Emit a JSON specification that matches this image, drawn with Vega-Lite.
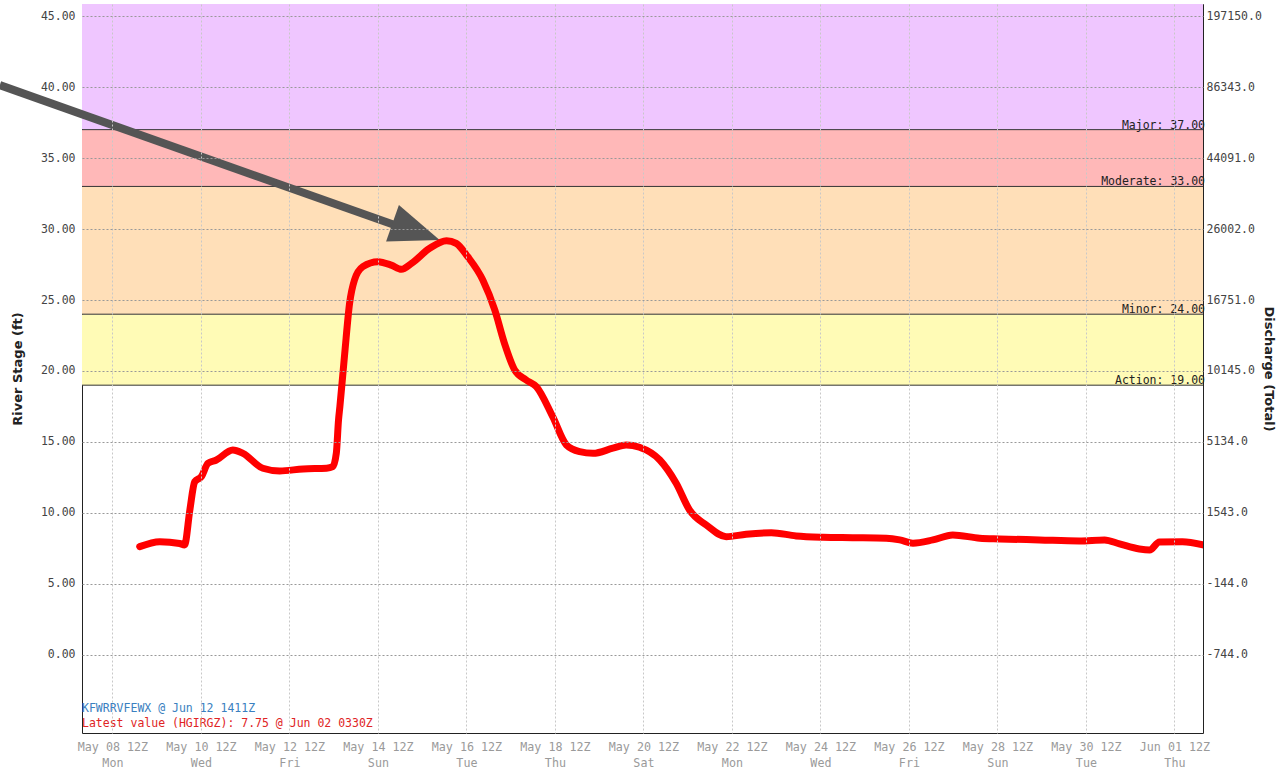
{
  "$schema": "https://vega.github.io/schema/vega-lite/v6.json",
  "width": 1121,
  "height": 729,
  "autosize": {"type": "none"},
  "padding": {"left": 82, "top": 4, "right": 74, "bottom": 38},
  "background": "white",
  "config": {
    "view": {"stroke": "#222", "strokeWidth": 1},
    "font": "DejaVu Sans Mono"
  },
  "datasets": {
    "stage": [
      {"time": "2023-05-09T02:48:00Z", "stage": 7.63},
      {"time": "2023-05-09T13:41:00Z", "stage": 7.98},
      {"time": "2023-05-10T00:29:00Z", "stage": 7.85},
      {"time": "2023-05-10T03:07:00Z", "stage": 7.75},
      {"time": "2023-05-10T06:00:00Z", "stage": 10.21},
      {"time": "2023-05-10T08:38:00Z", "stage": 12.2},
      {"time": "2023-05-10T12:14:00Z", "stage": 12.56},
      {"time": "2023-05-10T15:50:00Z", "stage": 13.5},
      {"time": "2023-05-10T20:24:00Z", "stage": 13.73},
      {"time": "2023-05-11T05:17:00Z", "stage": 14.44},
      {"time": "2023-05-11T10:48:00Z", "stage": 14.2},
      {"time": "2023-05-11T21:36:00Z", "stage": 13.15},
      {"time": "2023-05-12T06:43:00Z", "stage": 12.96},
      {"time": "2023-05-12T19:26:00Z", "stage": 13.1},
      {"time": "2023-05-13T08:10:00Z", "stage": 13.15},
      {"time": "2023-05-13T11:31:00Z", "stage": 13.26},
      {"time": "2023-05-13T13:26:00Z", "stage": 14.2},
      {"time": "2023-05-13T14:38:00Z", "stage": 16.55},
      {"time": "2023-05-13T15:22:00Z", "stage": 17.49},
      {"time": "2023-05-13T18:00:00Z", "stage": 21.25},
      {"time": "2023-05-13T20:38:00Z", "stage": 24.77},
      {"time": "2023-05-13T23:17:00Z", "stage": 26.41},
      {"time": "2023-05-14T03:50:00Z", "stage": 27.35},
      {"time": "2023-05-14T12:00:00Z", "stage": 27.7},
      {"time": "2023-05-14T19:12:00Z", "stage": 27.46},
      {"time": "2023-05-15T00:43:00Z", "stage": 27.16},
      {"time": "2023-05-15T06:14:00Z", "stage": 27.58},
      {"time": "2023-05-15T16:05:00Z", "stage": 28.64},
      {"time": "2023-05-16T01:12:00Z", "stage": 29.18},
      {"time": "2023-05-16T06:29:00Z", "stage": 28.99},
      {"time": "2023-05-16T12:43:00Z", "stage": 28.05},
      {"time": "2023-05-16T20:53:00Z", "stage": 26.41},
      {"time": "2023-05-17T03:22:00Z", "stage": 24.3},
      {"time": "2023-05-17T08:38:00Z", "stage": 21.95},
      {"time": "2023-05-17T14:10:00Z", "stage": 20.07},
      {"time": "2023-05-17T20:24:00Z", "stage": 19.37},
      {"time": "2023-05-18T01:55:00Z", "stage": 18.9},
      {"time": "2023-05-18T10:48:00Z", "stage": 16.78},
      {"time": "2023-05-18T18:14:00Z", "stage": 14.79},
      {"time": "2023-05-19T01:26:00Z", "stage": 14.32},
      {"time": "2023-05-19T08:38:00Z", "stage": 14.2},
      {"time": "2023-05-19T19:26:00Z", "stage": 14.56},
      {"time": "2023-05-20T02:38:00Z", "stage": 14.79},
      {"time": "2023-05-20T09:50:00Z", "stage": 14.63},
      {"time": "2023-05-20T20:53:00Z", "stage": 13.73},
      {"time": "2023-05-21T05:46:00Z", "stage": 12.09},
      {"time": "2023-05-21T13:00:00Z", "stage": 10.21},
      {"time": "2023-05-21T22:05:00Z", "stage": 9.15},
      {"time": "2023-05-22T08:53:00Z", "stage": 8.33},
      {"time": "2023-05-22T19:41:00Z", "stage": 8.5},
      {"time": "2023-05-23T09:22:00Z", "stage": 8.61},
      {"time": "2023-05-23T22:48:00Z", "stage": 8.38},
      {"time": "2023-05-24T13:26:00Z", "stage": 8.29},
      {"time": "2023-05-25T05:31:00Z", "stage": 8.26},
      {"time": "2023-05-25T23:46:00Z", "stage": 8.22},
      {"time": "2023-05-26T07:00:00Z", "stage": 8.1},
      {"time": "2023-05-26T14:12:00Z", "stage": 7.87},
      {"time": "2023-05-27T01:00:00Z", "stage": 8.1},
      {"time": "2023-05-27T11:46:00Z", "stage": 8.45},
      {"time": "2023-05-28T02:24:00Z", "stage": 8.22},
      {"time": "2023-05-28T13:12:00Z", "stage": 8.17},
      {"time": "2023-05-29T10:48:00Z", "stage": 8.1},
      {"time": "2023-05-30T08:24:00Z", "stage": 8.03},
      {"time": "2023-05-30T22:05:00Z", "stage": 8.1},
      {"time": "2023-05-31T06:14:00Z", "stage": 7.82},
      {"time": "2023-05-31T17:00:00Z", "stage": 7.46},
      {"time": "2023-05-31T22:34:00Z", "stage": 7.39},
      {"time": "2023-06-01T03:50:00Z", "stage": 7.96},
      {"time": "2023-06-01T16:19:00Z", "stage": 7.98},
      {"time": "2023-06-02T03:30:00Z", "stage": 7.75}
    ],
    "bands": [
      {"category": "Action", "lo": 19, "hi": 24},
      {"category": "Minor", "lo": 24, "hi": 33},
      {"category": "Moderate", "lo": 33, "hi": 37},
      {"category": "Major", "lo": 37, "hi": 46}
    ],
    "thresholds": [
      {"label": "Action: 19.00", "stage": 19},
      {"label": "Minor: 24.00", "stage": 24},
      {"label": "Moderate: 33.00", "stage": 33},
      {"label": "Major: 37.00", "stage": 37}
    ],
    "arrow": [
      {"time": "2023-05-05T22:54:00Z", "stage": 40.14},
      {"time": "2023-05-14T21:04:00Z", "stage": 30.28}
    ],
    "arrowhead": [
      {"time": "2023-05-15T21:29:00Z", "stage": 29.23}
    ],
    "source": [{"note": "KFWRRVFEWX @ Jun 12 1411Z"}],
    "latest": [{"note": "Latest value (HGIRGZ): 7.75 @ Jun 02 0330Z"}]
  },
  "resolve": {"scale": {"y": "independent"}, "axis": {"y": "independent"}},
  "layer": [
    {
      "layer": [
        {
          "data": {"name": "bands"},
          "mark": {"type": "rect", "clip": true},
          "encoding": {
            "y": {
              "field": "lo", "type": "quantitative",
              "scale": {"domain": [-5.5, 45.85], "nice": false, "zero": false},
              "axis": {
                "values": [0, 5, 10, 15, 20, 25, 30, 35, 40, 45],
                "format": ".2f",
                "grid": true, "gridColor": "#999", "gridDash": [2, 2], "gridWidth": 1,
                "zindex": 1,
                "domain": false, "ticks": false,
                "labelFont": "DejaVu Sans Mono", "labelFontSize": 11.5, "labelColor": "#444",
                "labelPadding": 7,
                "title": "River Stage (ft)",
                "titleFont": "DejaVu Sans", "titleFontWeight": "bold", "titleFontSize": 13,
                "titleColor": "#222", "titlePadding": 16
              }
            },
            "y2": {"field": "hi"},
            "color": {
              "field": "category", "type": "nominal", "legend": null,
              "scale": {
                "domain": ["Action", "Minor", "Moderate", "Major"],
                "range": ["#FFFBB6", "#FFDFB8", "#FFB8B8", "#EFC6FF"]
              }
            }
          }
        },
        {
          "data": {"name": "thresholds"},
          "mark": {"type": "rule", "color": "#333", "strokeWidth": 1},
          "encoding": {
            "y": {"field": "stage", "type": "quantitative",
                  "scale": {"domain": [-5.5, 45.85], "nice": false, "zero": false}}
          }
        },
        {
          "data": {"name": "thresholds"},
          "mark": {"type": "text", "align": "right", "baseline": "alphabetic", "dx": 2, "dy": -1,
                   "font": "DejaVu Sans Mono", "fontSize": 11.5, "color": "#222"},
          "encoding": {
            "x": {"datum": {"year": 2023, "month": 6, "date": 2, "hours": 3, "minutes": 30, "utc": true},
                  "type": "temporal",
                  "scale": {"type": "utc", "nice": false,
                            "domain": [{"year": 2023, "month": 5, "date": 7, "hours": 19, "minutes": 30, "utc": true},
                                       {"year": 2023, "month": 6, "date": 2, "hours": 3, "minutes": 30, "utc": true}]}},
            "y": {"field": "stage", "type": "quantitative",
                  "scale": {"domain": [-5.5, 45.85], "nice": false, "zero": false}},
            "text": {"field": "label"}
          }
        },
        {
          "data": {"name": "arrow"},
          "mark": {"type": "line", "color": "#555555", "strokeWidth": 8, "strokeCap": "butt", "clip": false},
          "encoding": {
            "x": {"field": "time", "type": "temporal",
                  "scale": {"type": "utc", "nice": false,
                            "domain": [{"year": 2023, "month": 5, "date": 7, "hours": 19, "minutes": 30, "utc": true},
                                       {"year": 2023, "month": 6, "date": 2, "hours": 3, "minutes": 30, "utc": true}]}},
            "y": {"field": "stage", "type": "quantitative",
                  "scale": {"domain": [-5.5, 45.85], "nice": false, "zero": false}}
          }
        },
        {
          "data": {"name": "arrowhead"},
          "mark": {"type": "point", "filled": true, "color": "#555555", "opacity": 1,
                   "shape": "M0,0 L-2.2,-0.85 L-2.2,0.85 Z", "size": 2066, "angle": 19.4, "clip": false},
          "encoding": {
            "x": {"field": "time", "type": "temporal",
                  "scale": {"type": "utc", "nice": false,
                            "domain": [{"year": 2023, "month": 5, "date": 7, "hours": 19, "minutes": 30, "utc": true},
                                       {"year": 2023, "month": 6, "date": 2, "hours": 3, "minutes": 30, "utc": true}]}},
            "y": {"field": "stage", "type": "quantitative",
                  "scale": {"domain": [-5.5, 45.85], "nice": false, "zero": false}}
          }
        },
        {
          "data": {"name": "source"},
          "mark": {"type": "text", "align": "left", "baseline": "middle",
                   "font": "DejaVu Sans Mono", "fontSize": 11.5, "color": "#3a80c0"},
          "encoding": {
            "x": {"datum": {"year": 2023, "month": 5, "date": 7, "hours": 19, "minutes": 30, "utc": true},
                  "type": "temporal",
                  "scale": {"type": "utc", "nice": false,
                            "domain": [{"year": 2023, "month": 5, "date": 7, "hours": 19, "minutes": 30, "utc": true},
                                       {"year": 2023, "month": 6, "date": 2, "hours": 3, "minutes": 30, "utc": true}]}},
            "y": {"datum": -3.8, "type": "quantitative",
                  "scale": {"domain": [-5.5, 45.85], "nice": false, "zero": false}},
            "text": {"field": "note"}
          }
        },
        {
          "data": {"name": "latest"},
          "mark": {"type": "text", "align": "left", "baseline": "middle",
                   "font": "DejaVu Sans Mono", "fontSize": 11.5, "color": "#e02424"},
          "encoding": {
            "x": {"datum": {"year": 2023, "month": 5, "date": 7, "hours": 19, "minutes": 30, "utc": true},
                  "type": "temporal",
                  "scale": {"type": "utc", "nice": false,
                            "domain": [{"year": 2023, "month": 5, "date": 7, "hours": 19, "minutes": 30, "utc": true},
                                       {"year": 2023, "month": 6, "date": 2, "hours": 3, "minutes": 30, "utc": true}]}},
            "y": {"datum": -4.86, "type": "quantitative",
                  "scale": {"domain": [-5.5, 45.85], "nice": false, "zero": false}},
            "text": {"field": "note"}
          }
        }
      ]
    },
    {
      "data": {"name": "stage"},
      "mark": {"type": "line", "color": "#ff0000", "strokeWidth": 7, "interpolate": "monotone", "strokeCap": "round", "strokeJoin": "round", "clip": true},
      "encoding": {
        "x": {
          "field": "time", "type": "temporal",
          "scale": {"type": "utc", "nice": false,
                    "domain": [{"year": 2023, "month": 5, "date": 7, "hours": 19, "minutes": 30, "utc": true},
                               {"year": 2023, "month": 6, "date": 2, "hours": 3, "minutes": 30, "utc": true}]},
          "axis": {
            "values": [
              {"year": 2023, "month": 5, "date": 8, "hours": 12, "utc": true},
              {"year": 2023, "month": 5, "date": 10, "hours": 12, "utc": true},
              {"year": 2023, "month": 5, "date": 12, "hours": 12, "utc": true},
              {"year": 2023, "month": 5, "date": 14, "hours": 12, "utc": true},
              {"year": 2023, "month": 5, "date": 16, "hours": 12, "utc": true},
              {"year": 2023, "month": 5, "date": 18, "hours": 12, "utc": true},
              {"year": 2023, "month": 5, "date": 20, "hours": 12, "utc": true},
              {"year": 2023, "month": 5, "date": 22, "hours": 12, "utc": true},
              {"year": 2023, "month": 5, "date": 24, "hours": 12, "utc": true},
              {"year": 2023, "month": 5, "date": 26, "hours": 12, "utc": true},
              {"year": 2023, "month": 5, "date": 28, "hours": 12, "utc": true},
              {"year": 2023, "month": 5, "date": 30, "hours": 12, "utc": true},
              {"year": 2023, "month": 6, "date": 1, "hours": 12, "utc": true}
            ],
            "labelExpr": "[utcFormat(datum.value, '%b %d 12Z'), utcFormat(datum.value, '%a')]",
            "grid": true, "gridColor": "#c8c8c8", "gridDash": [2, 2], "gridWidth": 1,
            "zindex": 1,
            "domain": false, "ticks": false,
            "labelFont": "DejaVu Sans Mono", "labelFontSize": 11.7, "labelColor": "#9a9a9a",
            "labelPadding": 8, "labelLineHeight": 16, "labelAngle": 0,
            "title": null
          }
        },
        "y": {
          "field": "stage", "type": "quantitative",
          "scale": {"domain": [-5.5, 45.85], "nice": false, "zero": false},
          "axis": {
            "orient": "right",
            "values": [0, 5, 10, 15, 20, 25, 30, 35, 40, 45],
            "labelExpr": "datum.value == 45 ? '197150.0' : datum.value == 40 ? '86343.0' : datum.value == 35 ? '44091.0' : datum.value == 30 ? '26002.0' : datum.value == 25 ? '16751.0' : datum.value == 20 ? '10145.0' : datum.value == 15 ? '5134.0' : datum.value == 10 ? '1543.0' : datum.value == 5 ? '-144.0' : '-744.0'",
            "grid": false, "domain": false, "ticks": false,
            "labelFont": "DejaVu Sans Mono", "labelFontSize": 11.5, "labelColor": "#444",
            "labelPadding": 3,
            "title": "Discharge (Total)",
            "titleFont": "DejaVu Sans", "titleFontWeight": "bold", "titleFontSize": 13,
            "titleColor": "#222", "titlePadding": 0
          }
        }
      }
    }
  ]
}
